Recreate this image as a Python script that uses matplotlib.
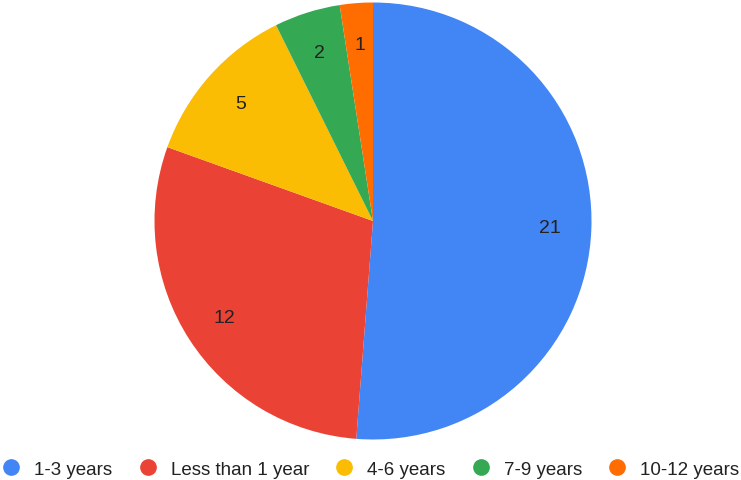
import numpy as np
import matplotlib.pyplot as plt
from matplotlib.lines import Line2D

plt.rcParams['font.family'] = ['Liberation Sans', 'DejaVu Sans']

# years of experience, counts per group
categories = ['1-3 years', 'Less than 1 year', '4-6 years', '7-9 years', '10-12 years']
counts = [21, 12, 5, 2, 1]
colors = ['#4285F4', '#EA4335', '#FBBC04', '#34A853', '#FF6D01']

W, H = 741, 481
fig = plt.figure(figsize=(W / 100, H / 100), dpi=100)

# pie centred at (373, 222) px, radius ~218 px
cx, cy, r = 373, 222, 218.5
ax = fig.add_axes([(cx - r) / W, (H - cy - r) / H, 2 * r / W, 2 * r / H])

wedges, texts = ax.pie(counts, colors=colors, startangle=90, counterclock=False,
                       radius=1.0, wedgeprops=dict(linewidth=0))
# value labels inside each slice
for w, c in zip(wedges, counts):
    ang = np.deg2rad((w.theta1 + w.theta2) / 2)
    ax.text(0.81 * np.cos(ang), 0.81 * np.sin(ang), str(c),
            ha='center', va='center', fontsize=14, color='#222222')
ax.set_xlim(-1, 1)
ax.set_ylim(-1, 1)
ax.set_aspect('equal')
ax.axis('off')

handles = [Line2D([], [], marker='o', linestyle='none', markersize=11,
                  markerfacecolor=c, markeredgecolor=c) for c in colors]
fig.legend(handles, categories, loc='center', bbox_to_anchor=(0.5, 1 - 470 / H),
           ncol=5, frameon=False, fontsize=13.5, handletextpad=0.73,
           columnspacing=1.37, handlelength=1.0, borderaxespad=0,
           labelcolor='#222222')

fig.savefig('out.png', dpi=100, facecolor='white')
